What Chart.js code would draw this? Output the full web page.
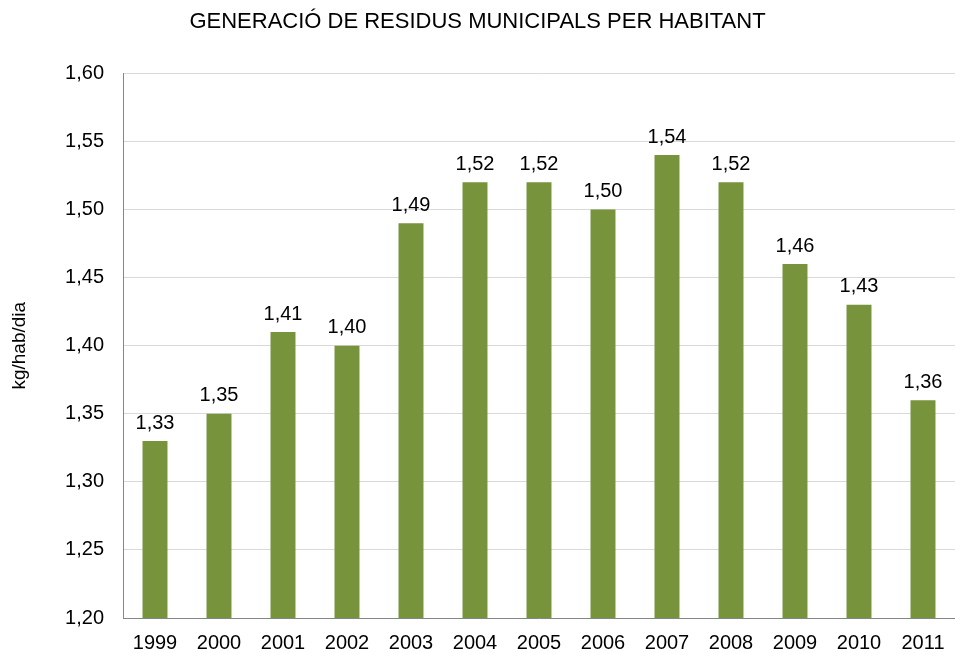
<!DOCTYPE html>
<html>
<head>
<meta charset="utf-8">
<script src="https://cdn.jsdelivr.net/npm/chart.js@4/dist/chart.umd.min.js"></script>
<style>
  html, body { margin: 0; padding: 0; background: #fff; }
  #wrap { width: 955px; height: 654px; }
</style>
</head>
<body>
<div id="wrap"><canvas id="grafic"></canvas></div>
<script>
// Dades llegides del gràfic
const anys = ['1999', '2000', '2001', '2002', '2003', '2004', '2005', '2006', '2007', '2008', '2009', '2010', '2011'];
const residus = [1.33, 1.35, 1.41, 1.40, 1.49, 1.52, 1.52, 1.50, 1.54, 1.52, 1.46, 1.43, 1.36];
const tickMin = 1.20;
const tickMax = 1.60;
const tickPas = 0.05;

const fmt = v => v.toFixed(2).replace('.', ',');

// Etiquetes de valor a sobre de cada barra
const etiquetesBarres = {
    id: 'etiquetesBarres',
    afterDatasetsDraw(chart) {
        const ctx = chart.ctx;
        ctx.save();
        ctx.font = '20px "Liberation Sans", Arial, sans-serif';
        ctx.fillStyle = '#000';
        ctx.textAlign = 'center';
        ctx.textBaseline = 'bottom';
        chart.getDatasetMeta(0).data.forEach((bar, i) => {
            ctx.fillText(fmt(residus[i]), bar.x, bar.y - 8);
        });
        ctx.restore();
    }
};

Chart.defaults.font.family = '"Liberation Sans", Arial, sans-serif';
Chart.defaults.color = '#000';

new Chart(document.getElementById('grafic').getContext('2d'), {
    type: 'bar',
    data: {
        labels: anys,
        datasets: [{
            data: residus,
            backgroundColor: '#77933C',
            borderWidth: 0,
            barPercentage: 0.39,
            categoryPercentage: 1
        }]
    },
    options: {
        responsive: true,
        maintainAspectRatio: false,
        animation: false,
        layout: { padding: { left: 0, right: 0, top: 0, bottom: 0 } },
        plugins: {
            legend: { display: false },
            tooltip: { enabled: false },
            title: {
                display: true,
                text: 'GENERACIÓ DE RESIDUS MUNICIPALS PER HABITANT',
                font: { size: 22, weight: 'normal' },
                color: '#000',
                padding: { top: 9, bottom: 38 }
            }
        },
        scales: {
            x: {
                grid: { display: false, drawTicks: false },
                border: { color: '#868686', width: 1 },
                ticks: { font: { size: 20, lineHeight: 1 }, padding: 15, color: '#000' },
                afterFit(scale) {
                    scale.height = 36;
                    scale.paddingLeft = 0;
                    scale.paddingRight = 0;
                }
            },
            y: {
                min: tickMin,
                max: tickMax,
                grid: { color: '#d9d9d9', drawTicks: false },
                border: { color: '#868686', width: 1 },
                ticks: {
                    stepSize: tickPas,
                    font: { size: 20 },
                    padding: 19,
                    color: '#000',
                    callback: v => fmt(v)
                },
                title: {
                    display: true,
                    text: 'kg/hab/dia',
                    font: { size: 19 },
                    color: '#000',
                    padding: { top: 8, bottom: 8 }
                },
                afterFit(scale) { scale.width = 123; }
            }
        }
    },
    plugins: [etiquetesBarres]
});
</script>
</body>
</html>
